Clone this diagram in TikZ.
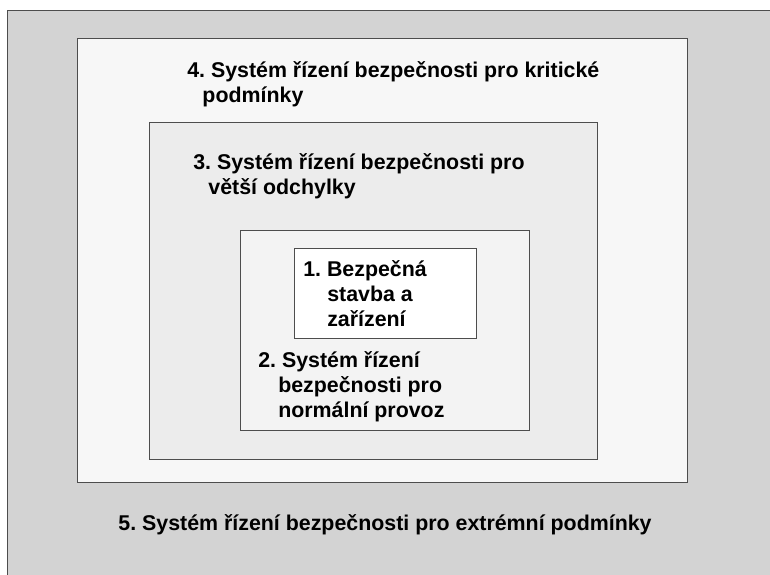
\documentclass[tikz,border=0pt]{standalone}
\usepackage{fontspec}
\setmainfont{Liberation Sans}
\usepackage{tikz}
\usetikzlibrary{positioning}
\usepackage{xcolor}
\definecolor{lvlfive}{RGB}{211,211,211}
\definecolor{lvlfour}{RGB}{247,247,247}
\definecolor{lvlthree}{RGB}{236,236,236}
\definecolor{lvltwo}{RGB}{243,243,243}
\definecolor{frame}{RGB}{77,77,77}
\frenchspacing
\tikzstyle{levelbox} = [draw=frame, line width=0.7pt]
\tikzstyle{leveltext} = [inner sep=0pt, anchor=base west, align=left, font=\fontsize{15.2}{17.8}\selectfont\bfseries]

\begin{document}
\begin{tikzpicture}
\useasboundingbox (0,0) rectangle (19.25,14.375);
\clip (0,0) rectangle (19.25,14.375);
\fill[white] (0,0) rectangle (19.25,14.375);

% Nested levels
\filldraw[levelbox, fill=lvlfive] (0.175,-1) rectangle (20,14.125);
\filldraw[levelbox, fill=lvlfour] (1.925,2.325) rectangle (17.175,13.425);
\filldraw[levelbox, fill=lvlthree] (3.725,2.9) rectangle (14.925,11.325);
\filldraw[levelbox, fill=lvltwo] (6.0,3.625) rectangle (13.225,8.625);
\filldraw[levelbox, fill=white] (7.35,5.925) rectangle (11.9,8.175);

% Labels (anchored at the baseline of the last line)
\node[leveltext] (four) at (4.675,11.8) {4. Syst\'em \v{r}\'izen\'i bezpe\v{c}nosti pro kritick\'e\\\hspace{0.38cm}podm\'inky};
\node[leveltext] (three) at (4.825,9.5) {3. Syst\'em \v{r}\'izen\'i bezpe\v{c}nosti pro\\\hspace{0.38cm}v\v{e}t\v{s}\'i odchylky};
\node[leveltext] (one) at (7.575,6.2) {1. Bezpe\v{c}n\'a\\\hspace{0.6cm}stavba a\\\hspace{0.6cm}za\v{r}\'izen\'i};
\node[leveltext] (two) at (6.45,3.925) {2. Syst\'em \v{r}\'izen\'i\\\hspace{0.5cm}bezpe\v{c}nosti pro\\\hspace{0.5cm}norm\'aln\'i provoz};
\node[leveltext, anchor=base] (five) at (9.625,1.1) {5. Syst\'em \v{r}\'izen\'i bezpe\v{c}nosti pro extr\'emn\'i podm\'inky};
\end{tikzpicture}
\end{document}
